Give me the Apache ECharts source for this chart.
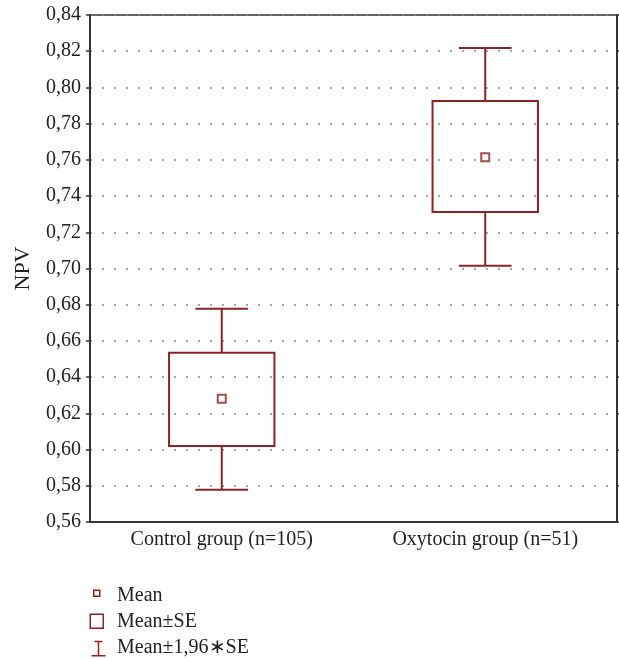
<!DOCTYPE html>
<html><head><meta charset="utf-8">
<script src="https://cdn.jsdelivr.net/npm/echarts@6/dist/echarts.min.js"></script>
<style>html,body{margin:0;padding:0;background:#fff}#c{width:619px;height:659px}</style>
</head><body><div id="c"></div>
<script>
const categories = ['Control group (n=105)', 'Oxytocin group (n=51)'];
const means = [0.628, 0.7615];
const seLow = [0.602, 0.7312];
const seHigh = [0.6535, 0.7925];
const ciLow = [0.5778, 0.7015];
const ciHigh = [0.6778, 0.8218];
const yTicks = [0.56, 0.84, 0.02];
const legendNames = ['Mean', 'Mean±SE', 'Mean±1,96∗SE'];

const RED = '#8a2226';
const FONT = 'Liberation Serif';
const FS = 20;

const chart = echarts.init(document.getElementById('c'));

function boxItem(params, api) {
  const i = api.value(0);
  const top = api.coord([i, api.value(2)]);
  const bot = api.coord([i, api.value(1)]);
  const bw = api.size([1, 0])[0] * 0.4;
  return {
    type: 'rect',
    shape: { x: top[0] - bw / 2, y: top[1], width: bw, height: bot[1] - top[1] },
    style: { fill: 'none', stroke: RED, lineWidth: 2 }
  };
}
function whiskerItem(params, api) {
  const i = api.value(0);
  const hi = api.coord([i, api.value(2)]);
  const lo = api.coord([i, api.value(1)]);
  const bLo = api.coord([i, api.value(3)]);
  const bHi = api.coord([i, api.value(4)]);
  const cw = api.size([1, 0])[0] * 0.2;
  const st = { stroke: RED, lineWidth: 2 };
  return {
    type: 'group',
    children: [
      { type: 'line', shape: { x1: hi[0], y1: hi[1], x2: bHi[0], y2: bHi[1] }, style: st },
      { type: 'line', shape: { x1: lo[0], y1: lo[1], x2: bLo[0], y2: bLo[1] }, style: st },
      { type: 'line', shape: { x1: hi[0] - cw / 2, y1: hi[1], x2: hi[0] + cw / 2, y2: hi[1] }, style: st },
      { type: 'line', shape: { x1: lo[0] - cw / 2, y1: lo[1], x2: lo[0] + cw / 2, y2: lo[1] }, style: st }
    ]
  };
}

const fmt = v => v.toFixed(2).replace('.', ',');

chart.setOption({
  animation: false,
  grid: { left: 90, right: 2, top: 15, bottom: 137, show: true, borderColor: '#333', borderWidth: 1.5 },
  xAxis: {
    type: 'category', data: categories,
    axisLine: { lineStyle: { color: '#333', width: 2 } },
    axisTick: { alignWithLabel: true, inside: true, length: 5, lineStyle: { color: '#333', width: 1.5 } },
    axisLabel: { color: '#222', fontFamily: FONT, fontSize: FS, margin: 8 },
    splitLine: { show: false }
  },
  yAxis: [{
    type: 'value', min: yTicks[0], max: yTicks[1], interval: yTicks[2],
    name: 'NPV', nameLocation: 'middle', nameGap: 56,
    nameTextStyle: { color: '#222', fontFamily: FONT, fontSize: 22, padding: [0, 0, 0, 0] },
    axisLine: { show: true, lineStyle: { color: '#333', width: 2 } },
    axisTick: { show: true, length: 4, lineStyle: { color: '#333', width: 1.5 } },
    axisLabel: { color: '#222', fontFamily: FONT, fontSize: FS, margin: 9, formatter: fmt },
    splitLine: { show: true, lineStyle: { color: '#888', type: [2, 10], width: 1.5, dashOffset: 0 } }
  }, {
    type: 'value', position: 'right', min: yTicks[0], max: yTicks[1], interval: yTicks[2],
    axisLine: { show: true, lineStyle: { color: '#333', width: 2 } },
    axisTick: { show: true, length: 3, lineStyle: { color: '#333', width: 1.5 } },
    axisLabel: { show: false }, splitLine: { show: false }
  }],
  series: [
    {
      name: legendNames[2], type: 'custom', renderItem: whiskerItem, z: 2,
      encode: { x: 0, y: [1, 2] },
      data: categories.map((c, i) => [i, ciLow[i], ciHigh[i], seLow[i], seHigh[i]])
    },
    {
      name: legendNames[1], type: 'custom', renderItem: boxItem, z: 3,
      encode: { x: 0, y: [1, 2] },
      data: categories.map((c, i) => [i, seLow[i], seHigh[i]])
    },
    {
      name: legendNames[0], type: 'scatter', symbol: 'rect', symbolSize: 8, z: 4,
      itemStyle: { color: '#fff', borderColor: RED, borderWidth: 2 },
      data: categories.map((c, i) => [i, means[i]])
    }
  ],
  graphic: [
    { type: 'rect', left: 93, top: 589.5, shape: { width: 6, height: 6 }, style: { fill: '#fff', stroke: RED, lineWidth: 1.5 } },
    { type: 'text', left: 117, top: 586, style: { text: legendNames[0], fontFamily: FONT, fontSize: FS, fill: '#222' } },
    { type: 'rect', left: 89.5, top: 613.5, shape: { width: 13, height: 14 }, style: { fill: '#fff', stroke: RED, lineWidth: 1.5 } },
    { type: 'text', left: 117, top: 612, style: { text: legendNames[1], fontFamily: FONT, fontSize: FS, fill: '#222' } },
    { type: 'group', left: 89, top: 639, children: [
      { type: 'line', shape: { x1: 3, y1: 0.75, x2: 11, y2: 0.75 }, style: { stroke: RED, lineWidth: 1.5 } },
      { type: 'line', shape: { x1: 7, y1: 0.75, x2: 7, y2: 15 }, style: { stroke: RED, lineWidth: 1.5 } },
      { type: 'line', shape: { x1: 0, y1: 15, x2: 14, y2: 15 }, style: { stroke: RED, lineWidth: 1.5 } }
    ] },
    { type: 'text', left: 117, top: 638, style: { text: legendNames[2], fontFamily: FONT, fontSize: FS, fill: '#222' } }
  ]
});
</script></body></html>
